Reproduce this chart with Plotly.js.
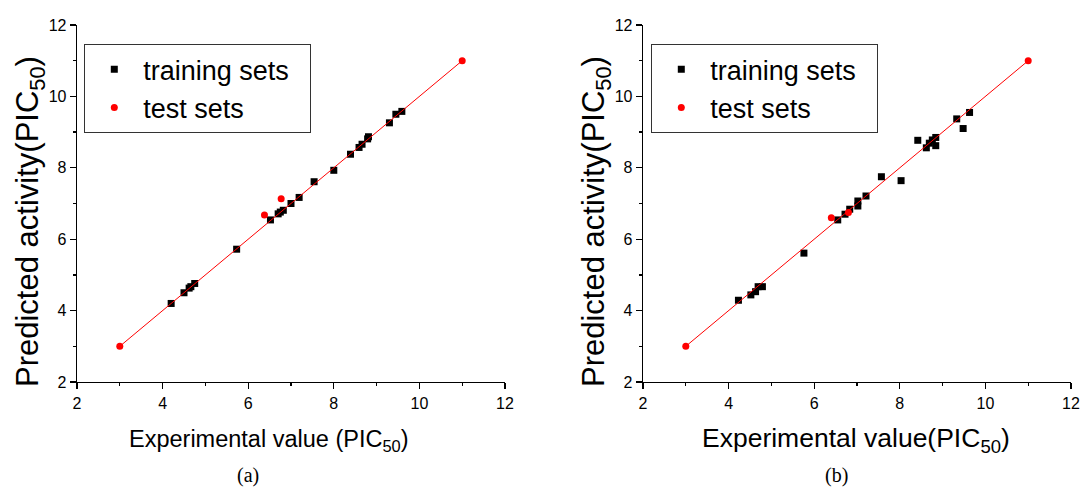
<!DOCTYPE html>
<html><head><meta charset="utf-8">
<script src="https://cdn.plot.ly/plotly-3.0.1.min.js"></script>
<style>body{margin:0;background:#fff}</style>
</head><body><div id="chart" style="width:1083px;height:487px"></div>
<script>
// Panel (a)
const trainA_x = [4.20, 4.50, 4.62, 4.66, 4.75, 5.73, 6.52, 6.70, 6.75, 6.82, 7.00, 7.19, 7.54, 8.00, 8.39, 8.59, 8.66, 8.79, 8.81, 9.30, 9.45, 9.59];
const trainA_y = [4.20, 4.50, 4.63, 4.67, 4.76, 5.72, 6.54, 6.71, 6.76, 6.81, 7.00, 7.17, 7.61, 7.93, 8.38, 8.57, 8.66, 8.81, 8.87, 9.26, 9.50, 9.58];
const testA_x = [3.0, 6.38, 6.77, 11.0];
const testA_y = [3.0, 6.68, 7.13, 11.0];
const fitA_x = [3, 11];
const fitA_y = [3, 11];
// Panel (b)
const trainB_x = [4.23, 4.52, 4.63, 4.69, 4.79, 5.76, 6.55, 6.72, 6.83, 7.02, 7.02, 7.21, 7.57, 8.03, 8.42, 8.62, 8.69, 8.76, 8.84, 8.84, 9.33, 9.48, 9.63];
const trainB_y = [4.29, 4.44, 4.53, 4.67, 4.67, 5.61, 6.54, 6.70, 6.84, 6.93, 7.07, 7.21, 7.75, 7.64, 8.77, 8.56, 8.69, 8.78, 8.85, 8.62, 9.37, 9.10, 9.55];
const testB_x = [3.0, 6.40, 6.80, 11.0];
const testB_y = [3.0, 6.60, 6.75, 11.0];
const fitB_x = [3, 11];
const fitB_y = [3, 11];

const legendNames = ['training sets', 'test sets'];
const tickVals = [2, 4, 6, 8, 10, 12];
const tickText = ['2', '4', '6', '8', '10', '12'];

const W = 1083, H = 487;
const FONT = 'Arial, "Liberation Sans", sans-serif';
const PAD = '\u00a0\u00a0';

const sq = {symbol: 'square', size: 7, color: '#000000'};
const dot = {symbol: 'circle', size: 7, color: '#ff0000'};
const ln = {color: '#ff0000', width: 1};

const traces = [
  {x: trainA_x, y: trainA_y, xaxis: 'x', yaxis: 'y', mode: 'markers', marker: sq, name: legendNames[0] + PAD, legend: 'legend'},
  {x: fitA_x, y: fitA_y, xaxis: 'x', yaxis: 'y', mode: 'lines', line: ln, showlegend: false, hoverinfo: 'skip'},
  {x: testA_x, y: testA_y, xaxis: 'x', yaxis: 'y', mode: 'markers', marker: dot, name: legendNames[1], legend: 'legend'},
  {x: trainB_x, y: trainB_y, xaxis: 'x2', yaxis: 'y2', mode: 'markers', marker: sq, name: legendNames[0] + PAD, legend: 'legend2'},
  {x: fitB_x, y: fitB_y, xaxis: 'x2', yaxis: 'y2', mode: 'lines', line: ln, showlegend: false, hoverinfo: 'skip'},
  {x: testB_x, y: testB_y, xaxis: 'x2', yaxis: 'y2', mode: 'markers', marker: dot, name: legendNames[1], legend: 'legend2'}
];

function axis(extra) {
  return Object.assign({
    range: [2, 12], tickmode: 'array', tickvals: tickVals, ticktext: tickText,
    ticks: 'outside', ticklen: 6, tickwidth: 1.3, tickcolor: '#000',
    showline: true, linecolor: '#000', linewidth: 1.3, mirror: false,
    showgrid: false, zeroline: false, automargin: false, fixedrange: true,
    tickfont: {family: FONT, size: 16, color: '#000'},
    minor: {ticks: 'outside', ticklen: 3, tickwidth: 1.3, tickcolor: '#000', dtick: 1, tick0: 2, showgrid: false}
  }, extra);
}

const yDom = [105 / H, 462 / H];
function legendCfg(px) {
  return {x: px / W, y: 1 - 44 / H, xanchor: 'left', yanchor: 'top', bgcolor: '#ffffff',
    bordercolor: '#333333', borderwidth: 1.3, font: {family: FONT, size: 27, color: '#000'},
    tracegroupgap: 0, itemwidth: 48};
}

function ann(text, px, py, size, extra) {
  return Object.assign({text: text, xref: 'paper', yref: 'paper', x: px / W, y: 1 - py / H,
    xanchor: 'center', yanchor: 'middle', showarrow: false,
    font: {family: FONT, size: size, color: '#000'}}, extra || {});
}

const SERIF = {family: '"Liberation Serif", "Times New Roman", serif', size: 20, color: '#000'};

const layout = {
  width: W, height: H, margin: {l: 0, r: 0, t: 0, b: 0},
  paper_bgcolor: '#ffffff', plot_bgcolor: '#ffffff',
  xaxis: axis({domain: [77 / W, 505 / W], anchor: 'y'}),
  yaxis: axis({domain: yDom, anchor: 'x'}),
  xaxis2: axis({domain: [643 / W, 1071 / W], anchor: 'y2'}),
  yaxis2: axis({domain: yDom, anchor: 'x2'}),
  legend: legendCfg(84),
  legend2: legendCfg(651),
  annotations: [
    ann('Predicted activity(PIC<sub>50</sub>)', 30, 222, 31, {textangle: -90}),
    ann('Predicted activity(PIC<sub>50</sub>)', 596, 222, 31, {textangle: -90}),
    ann('Experimental value (PIC<sub>50</sub>)', 269, 440, 23.5),
    ann('Experimental value(PIC<sub>50</sub>)', 856, 440, 26.5),
    ann('(a)', 248, 475, 20, {font: SERIF}),
    ann('(b)', 836, 475, 20, {font: SERIF})
  ],
  showlegend: true
};

Plotly.newPlot('chart', traces, layout, {displayModeBar: false, staticPlot: true});
</script></body></html>
